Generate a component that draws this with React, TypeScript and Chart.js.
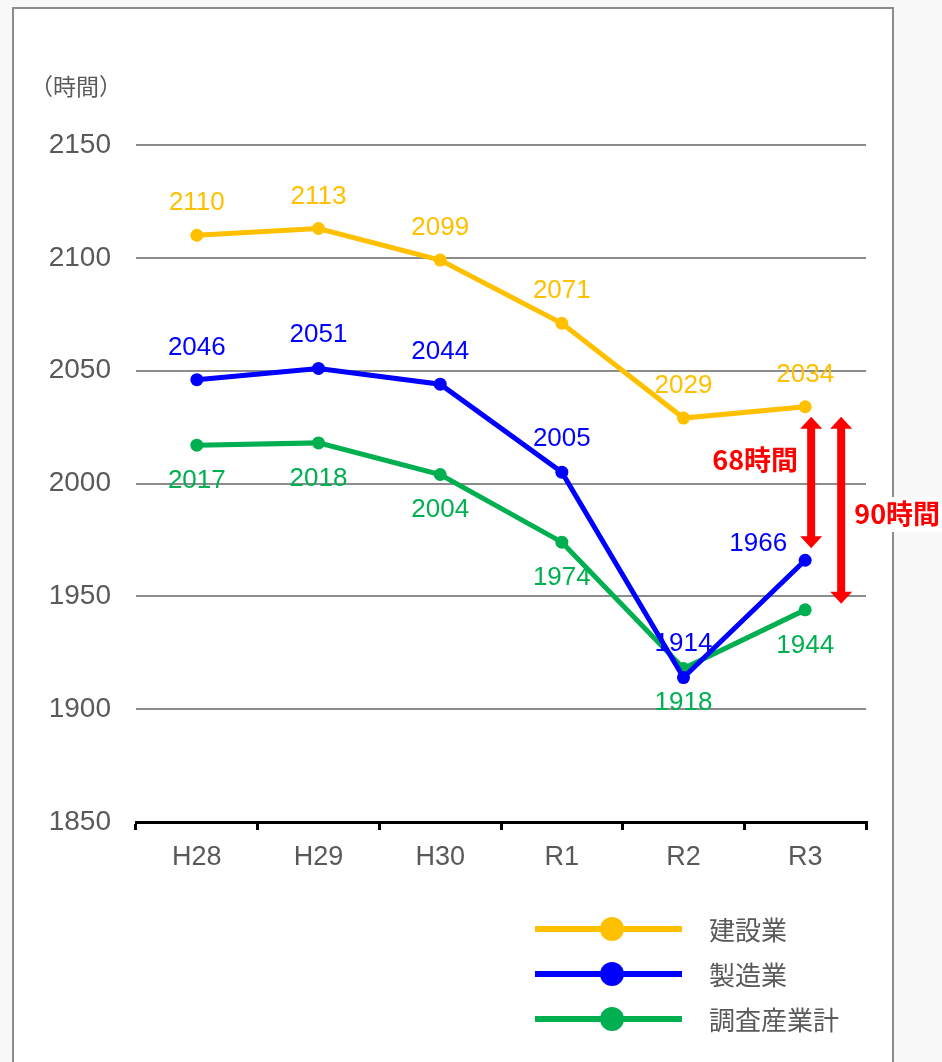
import React, { useEffect, useRef } from "react";
import { Chart, registerables } from "chart.js";

Chart.register(...registerables);

const categories = ["H28", "H29", "H30", "R1", "R2", "R3"];
const seriesNames = ["建設業", "製造業", "調査産業計"];
const construction = [2110, 2113, 2099, 2071, 2029, 2034];
const manufacturing = [2046, 2051, 2044, 2005, 1914, 1966];
const allIndustries = [2017, 2018, 2004, 1974, 1918, 1944];
const yTicks = [1850, 1900, 1950, 2000, 2050, 2100, 2150];
const gapLabels = ["68時間", "90時間"];

const COLORS = ["#FFC000", "#0000FF", "#00B050"];
const NUM_FONT = '"Liberation Sans", Arial, sans-serif';
const JP_FONT = '"Noto Sans CJK JP", "Noto Sans", sans-serif';

// label offsets (dx, dy) per series per point
const labelOffsets: [number, number][][] = [
  [[0, -32], [0, -32], [0, -32], [0, -32], [0, -32], [0, -32]],
  [[0, -32], [0, -34], [0, -32], [0, -33], [0, -34], [-47, -16]],
  [[0, 36], [0, 36], [0, 35], [0, 36], [0, 34], [0, 36]],
];

const decorPlugin = {
  id: "decor",
  afterDatasetsDraw(chart: any) {
    const ctx = chart.ctx;
    const xs = chart.scales.x;
    const ys = chart.scales.y;
    ctx.save();

    // data labels
    chart.data.datasets.forEach((ds: any, di: number) => {
      const meta = chart.getDatasetMeta(di);
      ctx.font = `26px ${NUM_FONT}`;
      ctx.fillStyle = COLORS[di];
      ctx.textAlign = "center";
      ctx.textBaseline = "middle";
      meta.data.forEach((pt: any, i: number) => {
        const [dx, dy] = labelOffsets[di][i];
        ctx.fillText(String(ds.data[i]), pt.x + dx, pt.y + dy);
      });
    });

    // y-axis unit label
    ctx.font = `23px ${JP_FONT}`;
    ctx.fillStyle = "#595959";
    ctx.textAlign = "center";
    ctx.textBaseline = "middle";
    ctx.fillText("（時間）", 76, 86);

    // arrows
    const last = categories.length - 1;
    const xR3 = xs.getPixelForValue(last);
    const top = ys.getPixelForValue(construction[last]) + 10;
    const drawArrow = (x: number, y1: number, y2: number) => {
      ctx.fillStyle = "#FF0000";
      const hw = 11;
      const hh = 12;
      ctx.fillRect(x - 4, y1 + hh - 1, 8, y2 - y1 - 2 * hh + 2);
      ctx.beginPath();
      ctx.moveTo(x, y1);
      ctx.lineTo(x + hw, y1 + hh);
      ctx.lineTo(x - hw, y1 + hh);
      ctx.closePath();
      ctx.fill();
      ctx.beginPath();
      ctx.moveTo(x, y2);
      ctx.lineTo(x + hw, y2 - hh);
      ctx.lineTo(x - hw, y2 - hh);
      ctx.closePath();
      ctx.fill();
    };
    drawArrow(xR3 + 6, top, ys.getPixelForValue(manufacturing[last]) - 12);
    drawArrow(xR3 + 36, top, ys.getPixelForValue(allIndustries[last]) - 6);

    ctx.font = `bold 27px ${JP_FONT}`;
    ctx.textAlign = "center";
    ctx.textBaseline = "middle";
    ctx.fillStyle = "#FF0000";
    ctx.fillText(gapLabels[0], xR3 - 50, 460);
    ctx.fillStyle = "#FFFFFF";
    ctx.fillRect(850, 497, 92, 35);
    ctx.fillStyle = "#FF0000";
    ctx.fillText(gapLabels[1], xR3 + 92, 514);

    // legend
    const rows = [929, 974, 1019];
    seriesNames.forEach((name, i) => {
      const y = rows[i];
      ctx.strokeStyle = COLORS[i];
      ctx.lineWidth = 6;
      ctx.beginPath();
      ctx.moveTo(535, y);
      ctx.lineTo(682, y);
      ctx.stroke();
      ctx.fillStyle = COLORS[i];
      ctx.beginPath();
      ctx.arc(612, y, 12, 0, Math.PI * 2);
      ctx.fill();
      ctx.fillStyle = "#595959";
      ctx.font = `26px ${JP_FONT}`;
      ctx.textAlign = "left";
      ctx.textBaseline = "middle";
      ctx.fillText(name, 709, y + 1);
    });

    ctx.restore();
  },
};

export default function App() {
  const canvasRef = useRef<HTMLCanvasElement | null>(null);

  useEffect(() => {
    if (!canvasRef.current) return;
    const series = [construction, manufacturing, allIndustries];
    const chart = new Chart(canvasRef.current, {
      type: "line",
      data: {
        labels: categories,
        datasets: series.map((d, i) => ({
          label: seriesNames[i],
          data: d,
          borderColor: COLORS[i],
          backgroundColor: COLORS[i],
          borderWidth: 5,
          pointRadius: 6.5,
          pointBorderWidth: 0,
          pointBackgroundColor: COLORS[i],
          tension: 0,
          fill: false,
        })),
      },
      options: {
        responsive: false,
        animation: false,
        devicePixelRatio: 1,
        layout: { padding: { top: 145, right: 76, left: 0, bottom: 0 } },
        plugins: {
          legend: { display: false },
          tooltip: { enabled: false },
          title: { display: false },
        },
        scales: {
          x: {
            type: "category",
            offset: true,
            grid: {
              display: true,
              offset: true,
              drawOnChartArea: false,
              drawTicks: true,
              tickLength: 8,
              color: "#000000",
              lineWidth: 3,
            },
            border: { display: true, color: "#000000", width: 3 },
            ticks: {
              color: "#595959",
              font: { family: NUM_FONT, size: 27 },
              padding: 11,
              maxRotation: 0,
            },
            afterFit: (scale: any) => {
              scale.height = 240;
            },
          },
          y: {
            min: yTicks[0],
            max: yTicks[yTicks.length - 1],
            afterBuildTicks: (scale: any) => {
              scale.ticks = yTicks.map((v) => ({ value: v }));
            },
            grid: {
              drawTicks: false,
              color: (c: any) => (c.tick && c.tick.value === yTicks[0] ? "rgba(0,0,0,0)" : "#8c8c8c"),
              lineWidth: 2,
            },
            border: { display: false },
            ticks: {
              color: "#595959",
              font: { family: NUM_FONT, size: 28 },
              padding: 25,
              callback: (v: any) => String(v),
            },
            afterFit: (scale: any) => {
              scale.width = 136;
            },
          },
        },
      },
      plugins: [decorPlugin],
    });
    return () => chart.destroy();
  }, []);

  return (
    <div
      style={{
        position: "absolute",
        left: 0,
        top: 0,
        width: 942,
        height: 1062,
        background: "#f8f8f8",
        overflow: "hidden",
      }}
    >
      <div
        style={{
          position: "absolute",
          left: 12,
          top: 7,
          width: 882,
          height: 1080,
          background: "#ffffff",
          border: "2px solid #8c8c8c",
          boxSizing: "border-box",
        }}
      />
      <canvas
        ref={canvasRef}
        width={942}
        height={1062}
        style={{ position: "absolute", left: 0, top: 0, width: 942, height: 1062 }}
      />
    </div>
  );
}
